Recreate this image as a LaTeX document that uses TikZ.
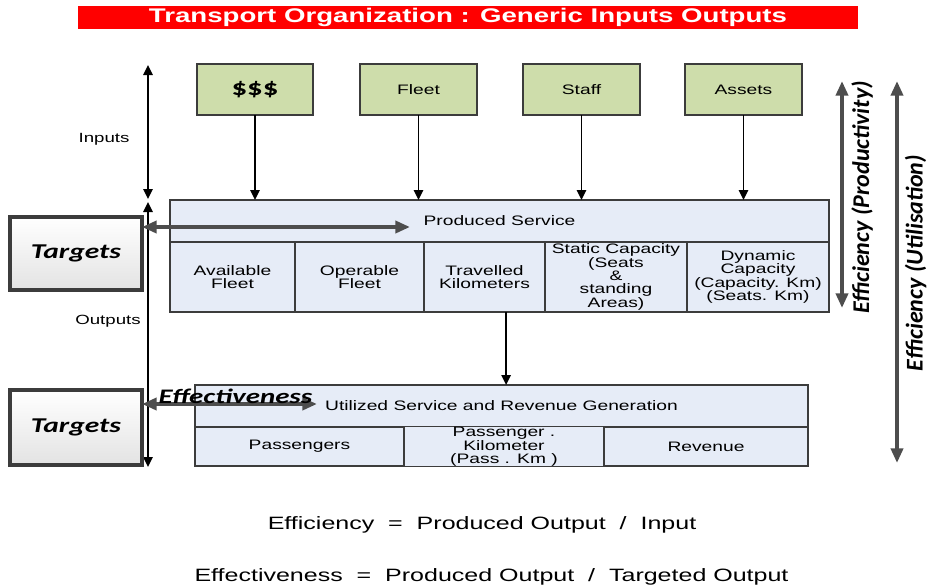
\documentclass[tikz,border=0pt]{standalone}
\usepackage{fontspec}
\setmainfont{Liberation Sans}[FakeStretch=1.4]
\newfontfamily\calwide{Carlito}[FakeStretch=1.4]
\newfontfamily\calnarrow{Carlito}
\usetikzlibrary{arrows.meta}

\definecolor{inputfill}{RGB}{206,221,171}
\definecolor{servfill}{RGB}{230,236,247}
\definecolor{edgegray}{RGB}{60,60,60}
\definecolor{arrowgray}{RGB}{77,77,77}
\definecolor{titlered}{RGB}{255,0,0}

\tikzset{
  sized/.style 2 args={minimum width=#1*0.75pt, minimum height=#2*0.75pt},
  boxtext/.style={font=\fontsize{10.3}{10}\selectfont, align=center},
  inbox/.style={draw=edgegray, line width=0.8pt, fill=inputfill, inner sep=0pt, outer sep=0pt, boxtext},
  cell/.style={draw=edgegray, line width=0.8pt, fill=servfill, inner sep=0pt, outer sep=0pt, boxtext},
  targetbox/.style={draw=edgegray, line width=2.4pt, top color=white, bottom color=black!11,
    inner sep=0pt, outer sep=0pt, font=\calwide\bfseries\itshape\fontsize{15.8}{16}\selectfont},
  flow/.style={-{Triangle[length=7.5pt,width=7pt]}, line width=1.4pt, black},
  span/.style={{Triangle[length=7.5pt,width=7pt]}-{Triangle[length=7.5pt,width=7pt]}, line width=1.4pt, black},
  grayspan/.style={{Triangle[length=11pt,width=9pt]}-{Triangle[length=11pt,width=9pt]}, line width=3pt, arrowgray},
  sidelabel/.style={font=\fontsize{10}{10}\selectfont},
  effect/.style={font=\calnarrow\bfseries\itshape\fontsize{18}{18}\selectfont, text=black},
  formula/.style={font=\fontsize{13.4}{14}\selectfont},
}

\begin{document}
\begin{tikzpicture}[x=0.75pt, y=-0.75pt]
\useasboundingbox (0,0) rectangle (931,587);

% title bar
\node[fill=titlered, sized={780}{23}, inner sep=0pt, text=white,
      font=\bfseries\fontsize{14.8}{15}\selectfont] (title) at (468,17.5)
      {Transport Organization : Generic Inputs Outputs};

% inputs
\node[inbox, sized={116}{51}, font=\calwide\bfseries\fontsize{16.5}{16}\selectfont] (money) at (255,89.5) {\$\$\$};
\node[inbox, sized={117}{51}] (fleet)  at (418.5,89.5) {Fleet};
\node[inbox, sized={117}{51}] (staff)  at (581.5,89.5) {Staff};
\node[inbox, sized={117}{51}] (assets) at (743.5,89.5) {Assets};

% produced service block
\node[cell, sized={659}{42}] (ps) at (499.5,221) {Produced Service};
\node[cell, sized={125}{70}] (c1) at (232.5,277) {Available\\Fleet};
\node[cell, sized={129}{70}] (c2) at (359.5,277) {Operable\\Fleet};
\node[cell, sized={121}{70}] (c3) at (484.5,277) {Travelled\\Kilometers};
\node[cell, sized={142}{70}] (c4) at (616,277) {Static Capacity\\(Seats\\\&\\standing\\Areas)};
\node[cell, sized={142}{70}] (c5) at (758,277) {Dynamic\\Capacity\\(Capacity. Km)\\(Seats. Km)};

% utilized service block
\node[cell, sized={613}{42}] (us) at (501.5,406) {Utilized Service and Revenue Generation};
\node[cell, sized={209}{39}] (p1) at (299.5,446.5) {Passengers};
\node[cell, sized={200}{39}, font=\fontsize{10.3}{9.5}\selectfont] (p2) at (504,446.5) {Passenger .\\Kilometer\\(Pass . Km )};
\node[cell, sized={204}{39}] (p3) at (706,446.5) {Revenue};

% input flows
\foreach \src in {money,fleet,staff,assets}
  \draw[flow] (\src.south) -- (\src.south |- ps.north);
\draw[flow] ([xshift=3.5pt]us.north |- c3.south) -- ([xshift=3.5pt]us.north);

% left scale
\coordinate (inTop) at (148,65);
\coordinate (inBot) at (148,199);
\coordinate (outTop) at (148,202);
\coordinate (outBot) at (148,467);
\draw[span] (inTop) -- (inBot);
\draw[span] (outTop) -- (outBot);
\node[sidelabel] (inputs) at (104,139) {Inputs};
\node[sidelabel] (outputs) at (108,321) {Outputs};

% targets
\node[targetbox, sized={132}{73}] (t1) at (76,253.5) {Targets};
\node[targetbox, sized={132}{75}] (t2) at (76,427.5) {Targets};
\coordinate (psTip) at (410,227);
\coordinate (usTip) at (317,404);
\draw[grayspan] (t1.east |- psTip) -- (psTip);
\draw[grayspan] (t2.east |- usTip) -- (usTip);
\node[font=\calwide\bfseries\itshape\fontsize{15.5}{16}\selectfont, anchor=base, inner sep=0pt] (eff) at (235.5,403) {Effectiveness};

% right scales
\coordinate (prodTop) at (842,81);
\coordinate (prodBot) at (842,308);
\coordinate (utilTop) at (897,81);
\coordinate (utilBot) at (897,463);
\draw[grayspan, line width=3.2pt] (prodTop) -- (prodBot);
\draw[grayspan, line width=3.2pt] (utilTop) -- (utilBot);
\node[effect, rotate=90] (prodlab) at (862,197.5) {Efficiency (Productivity)};
\node[effect, rotate=90] (utillab) at (915.5,263) {Efficiency (Utilisation)};

% definitions
\node[formula] (f1) at (482,525) {Efficiency~~=~~Produced Output~~/~~Input};
\node[formula] (f2) at (491.5,577) {Effectiveness~~=~~Produced Output~~/~~Targeted Output};
\end{tikzpicture}
\end{document}
